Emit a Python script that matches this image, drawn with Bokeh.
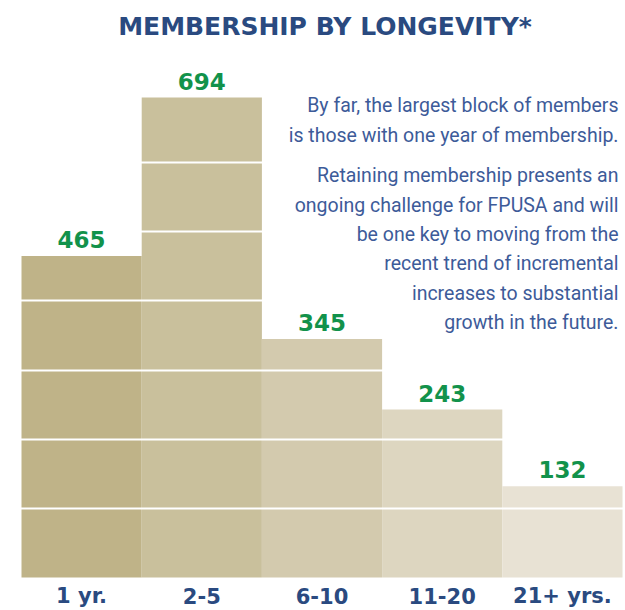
from bokeh.plotting import figure
from bokeh.models import Range1d, FixedTicker
from bokeh.core.properties import value
from bokeh.embed import file_html
from bokeh.resources import INLINE

# ---- data ----
categories = ["1 yr.", "2-5", "6-10", "11-20", "21+ yrs."]
members = [465, 694, 345, 243, 132]
grid_ticks = [100, 200, 300, 400, 500, 600]
title_text = "MEMBERSHIP BY LONGEVITY*"
note_para1 = ["By far, the largest block of members",
              "is those with one year of membership."]
note_para2 = ["Retaining membership presents an",
              "ongoing challenge for FPUSA and will",
              "be one key to moving from the",
              "recent trend of incremental",
              "increases to substantial",
              "growth in the future."]

# ---- styles ----
bar_colors = ["#BFB388", "#C9C09C", "#D3CAAE", "#DDD6C0", "#E8E2D4"]
NAVY = "#2A4A80"
TEXT_BLUE = "#3D5B99"
GREEN = "#12924B"

W, H = 625, 610
OX, OY = 0, 0            # page offset of the canvas
BASE_PAGE = 577          # page y of the bar baseline
BAR_LEFT_PAGE, BAR_RIGHT_PAGE = 21, 622
UPP = 694 / 480.0        # data units per pixel (vertical)
PPX = (BAR_RIGHT_PAGE - BAR_LEFT_PAGE) / len(categories)  # pixels per category
FIX = 0.36               # renderer draws alphabetic baseline ~0.36em low

def dx(page_x):
    return -0.5 + (page_x - BAR_LEFT_PAGE) / PPX

def dy(page_y):
    return (BASE_PAGE - page_y) * UPP

def dy_text(page_baseline, font_px):
    return dy(page_baseline - FIX * font_px)

x_range = Range1d(dx(OX), dx(OX + W))
y_range = Range1d(dy(OY + H), dy(OY))

p = figure(width=W, height=H, x_range=x_range, y_range=y_range,
           output_backend="svg", toolbar_location=None,
           x_axis_location=None, y_axis_location=None,
           min_border=0, min_border_left=0, min_border_right=0,
           min_border_top=0, min_border_bottom=0)
p.outline_line_color = None
p.background_fill_color = "white"
p.border_fill_color = "white"

idx = list(range(len(categories)))

p.vbar(x=idx, top=members, bottom=0, width=1.0,
       fill_color=bar_colors, line_color=None)

p.xgrid.visible = False
p.ygrid.ticker = FixedTicker(ticks=grid_ticks)
p.ygrid.grid_line_color = "white"
p.ygrid.grid_line_width = 2
p.ygrid.level = "guide"

# value labels (baseline 8px above bar top)
VAL_PX = 23
p.text(x=idx, y=[v + (8 + FIX * VAL_PX) * UPP for v in members],
       text=[str(v) for v in members],
       text_font=value("DejaVu Sans"), text_font_style="bold",
       text_font_size=f"{VAL_PX}px", text_color=GREEN,
       text_align="center", text_baseline="alphabetic", level="annotation")

# category labels
CAT_PX = 21
p.text(x=idx, y=[dy_text(603, CAT_PX)] * len(categories), text=categories,
       text_font=value("DejaVu Sans"), text_font_style="bold",
       text_font_size=f"{CAT_PX}px", text_color=NAVY,
       text_align="center", text_baseline="alphabetic", level="annotation")

# title
TITLE_PX = 25
p.text(x=[dx(324.5)], y=[dy_text(35, TITLE_PX)], text=[title_text],
       text_font=value("DejaVu Sans"), text_font_style="bold",
       text_font_size=f"{TITLE_PX}px", text_color=NAVY,
       text_align="center", text_baseline="alphabetic", level="annotation")

# annotation text
NOTE_PX = 19.5
line_gap = 29.4
para1_y = [112.3 + i * line_gap for i in range(len(note_para1))]
para2_y = [182.3 + i * line_gap for i in range(len(note_para2))]
lines = note_para1 + note_para2
ys = [dy_text(y, NOTE_PX) for y in para1_y + para2_y]
p.text(x=[dx(618)] * len(lines), y=ys, text=lines,
       text_font=value("Roboto"), text_font_style="normal",
       text_font_size=f"{NOTE_PX}px", text_color=TEXT_BLUE,
       text_align="right", text_baseline="alphabetic", level="annotation")

open("out.html", "w").write(file_html(p, INLINE))
